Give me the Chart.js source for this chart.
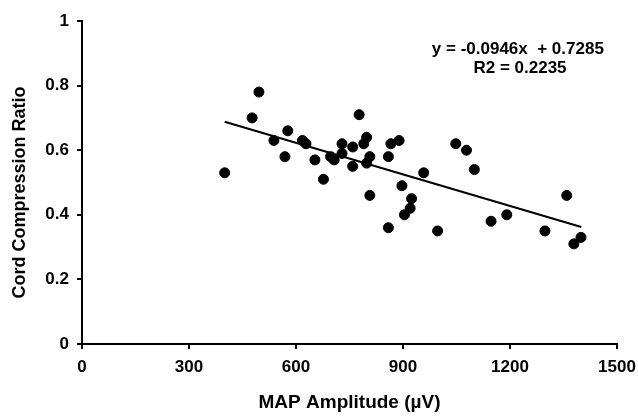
<!DOCTYPE html>
<html>
<head>
<meta charset="utf-8">
<script src="https://cdn.jsdelivr.net/npm/chart.js@4.4.1/dist/chart.umd.min.js"></script>
<style>
  body { margin: 0; background: #fff; }
</style>
</head>
<body>
<canvas id="scatter-chart" width="638" height="418"></canvas>
<script>
// MAP amplitude (µV) vs cord compression ratio
const mapAmplitude = [400, 496, 477, 577, 538, 569, 618, 628, 653, 677, 697, 707, 729, 729, 759, 759, 777, 798, 790, 807, 798, 807, 859, 866, 889, 859, 897, 924, 920, 904, 958, 1048, 1078, 1100, 997, 1147, 1191, 1359, 1298, 1399, 1379];
const compressionRatio = [0.53, 0.78, 0.70, 0.66, 0.63, 0.58, 0.63, 0.62, 0.57, 0.51, 0.58, 0.57, 0.62, 0.59, 0.61, 0.55, 0.71, 0.64, 0.62, 0.58, 0.56, 0.46, 0.58, 0.62, 0.63, 0.36, 0.49, 0.45, 0.42, 0.40, 0.53, 0.62, 0.60, 0.54, 0.35, 0.38, 0.40, 0.46, 0.35, 0.33, 0.31];

// trend line end points
const trendX = [400, 1400];
const trendY = [0.688, 0.362];

const xTicks = [0, 300, 600, 900, 1200, 1500];
const yTicks = [0, 0.2, 0.4, 0.6, 0.8, 1];

const equationText = ['y = -0.0946x  + 0.7285', 'R2 = 0.2235'];
const equationX = [1222, 1228];
const equationY = [0.913, 0.855];

const points = mapAmplitude.map((x, i) => ({ x: x, y: compressionRatio[i] }));
const trend = trendX.map((x, i) => ({ x: x, y: trendY[i] }));

const fontFamily = '"Liberation Sans", Arial, sans-serif';
const tickLen = 5;

/* draws the outside tick marks and the regression equation */
const axisExtras = {
  id: 'axisExtras',
  afterDraw(chart) {
    const ctx = chart.ctx;
    const xScale = chart.scales.x;
    const yScale = chart.scales.y;
    const area = chart.chartArea;
    ctx.save();
    ctx.strokeStyle = '#000';
    ctx.lineWidth = 2;
    ctx.beginPath();
    xScale.ticks.forEach(t => {
      const px = Math.round(xScale.getPixelForValue(t.value));
      ctx.moveTo(px, area.bottom);
      ctx.lineTo(px, area.bottom + tickLen);
    });
    yScale.ticks.forEach(t => {
      const py = Math.round(yScale.getPixelForValue(t.value));
      ctx.moveTo(area.left, py);
      ctx.lineTo(area.left - tickLen, py);
    });
    ctx.stroke();

    ctx.fillStyle = '#000';
    ctx.font = 'bold 17px ' + fontFamily;
    ctx.textAlign = 'center';
    ctx.textBaseline = 'middle';
    equationText.forEach((t, i) => {
      ctx.fillText(t, xScale.getPixelForValue(equationX[i]), yScale.getPixelForValue(equationY[i]));
    });
    ctx.restore();
  }
};

// tick length here only reserves room for the labels, the marks come from the plugin
const xGrid = { drawOnChartArea: false, drawTicks: true, tickLength: 11, tickColor: 'rgba(0,0,0,0)' };
const yGrid = { drawOnChartArea: false, drawTicks: true, tickLength: tickLen, tickColor: 'rgba(0,0,0,0)' };

new Chart(document.getElementById('scatter-chart'), {
  type: 'scatter',
  data: {
    datasets: [{
      data: points,
      backgroundColor: '#000',
      borderColor: '#000',
      pointRadius: 5,
      pointHoverRadius: 5
    }, {
      type: 'line',
      data: trend,
      borderColor: '#000',
      borderWidth: 2,
      pointRadius: 0,
      fill: false
    }]
  },
  options: {
    responsive: false,
    animation: false,
    layout: { padding: { top: 21, right: 21, bottom: 1, left: 0 } },
    plugins: {
      legend: { display: false },
      tooltip: { enabled: false }
    },
    scales: {
      x: {
        type: 'linear',
        min: 0,
        max: 1500,
        afterFit: (scale) => { scale.height = 73; },
        afterBuildTicks: (scale) => { scale.ticks = xTicks.map(v => ({ value: v })); },
        border: { color: '#000', width: 2 },
        grid: xGrid,
        ticks: {
          color: '#000',
          padding: 2,
          maxRotation: 0,
          callback: (value) => String(value),
          font: { family: fontFamily, size: 17, weight: 'bold' }
        },
        title: {
          display: true,
          text: 'MAP Amplitude (µV)',
          color: '#000',
          padding: { top: 0, bottom: 3 },
          font: { family: fontFamily, size: 19, weight: 'bold' }
        }
      },
      y: {
        min: 0,
        max: 1,
        afterFit: (scale) => { scale.width = 82; },
        afterBuildTicks: (scale) => { scale.ticks = yTicks.map(v => ({ value: v })); },
        border: { color: '#000', width: 2 },
        grid: yGrid,
        ticks: {
          color: '#000',
          padding: 8,
          callback: (value) => String(value),
          font: { family: fontFamily, size: 17, weight: 'bold' }
        },
        title: {
          display: true,
          text: 'Cord Compression Ratio    ',
          color: '#000',
          padding: { top: 9, bottom: 0 },
          font: { family: fontFamily, size: 18, weight: 'bold' }
        }
      }
    }
  },
  plugins: [axisExtras]
});
</script>
</body>
</html>
